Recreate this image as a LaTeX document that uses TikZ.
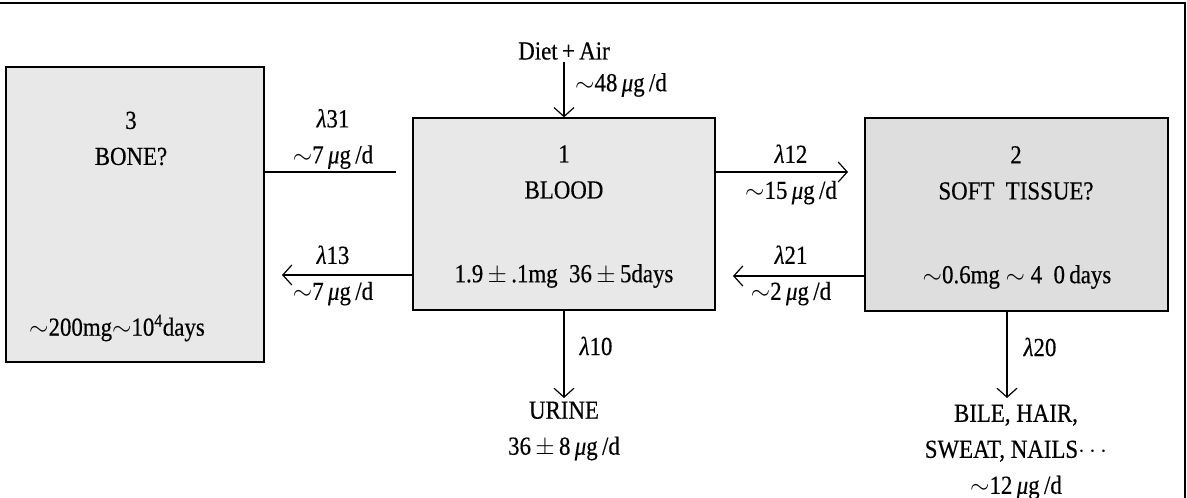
\documentclass[tikz,border=0pt]{standalone}
\usepackage{fontspec}
\setmainfont{Liberation Serif}[FakeStretch=0.88,FakeBold=0.4]
\usetikzlibrary{arrows.meta}
\definecolor{boxA}{HTML}{E8E8E8}
\definecolor{boxB}{HTML}{DEDEDE}
\newcommand{\ug}{\,{\itshape μ}g\,/d}
\newcommand{\lam}{{\itshape λ}}
\newcommand{\pmm}{\,$\pm$\,}
\tikzset{
  comp/.style={draw, line width=1.3pt, inner sep=0pt},
  flow/.style={line width=1.2pt, -{Straight Barb[length=9pt,width=20pt,line width=1.2pt]}},
  plain/.style={line width=1.2pt},
  lbl/.style={inner sep=0pt, align=center},
}
\begin{document}
\begin{tikzpicture}[x=1pt,y=-1pt,font=\fontsize{26}{36}\selectfont]
\useasboundingbox (0,0) rectangle (1187,498);
% frame
\coordinate (ftl) at (0,3);
\coordinate (ftr) at (1185,3);
\coordinate (fbr) at (1185,498);
\draw[line width=2pt] (ftl) -- (ftr) -- (fbr);
% compartments
\node[comp, fill=boxA, minimum width=258pt, minimum height=295pt] (bone) at (135,214.5) {};
\node[comp, fill=boxA, minimum width=302pt, minimum height=192pt] (blood) at (564,214) {};
\node[comp, fill=boxB, minimum width=303pt, minimum height=193pt] (soft) at (1016.5,214.5) {};
% box texts
\node[lbl] (boneT) at (131,138.5) {3\\BONE?};
\node[lbl] (boneV) at (117,328) {$\sim$200mg$\sim$10\textsuperscript{4}days};
\node[lbl] (bloodT) at (564,172) {1\\BLOOD};
\node[lbl] (bloodV) at (564,276) {1.9\pmm.1mg\ \ 36\pmm5days};
\node[lbl] (softT) at (1016,173) {2\\SOFT\ \ TISSUE?};
\node[lbl] (softV) at (1017,277) {$\sim$0.6mg $\sim$ 4\ \ 0\,days};
% free ends
\coordinate (diet) at (564,62);
\coordinate (e31) at (396,172);
\coordinate (e13) at (282,275);
\coordinate (e12) at (848,172);
\coordinate (e21) at (733,276);
\coordinate (e10) at (564,398);
\coordinate (e20) at (1007,398);
% connectors
\draw[flow] (diet) -- (blood.north);
\draw[plain] (bone.east |- e31) -- (e31);
\draw[flow] (blood.west |- e13) -- (e13);
\draw[flow] (blood.east |- e12) -- (e12);
\draw[flow] (soft.west |- e21) -- (e21);
\draw[flow] (blood.south) -- (e10);
\draw[flow] (soft.south -| e20) -- (e20);
% labels
\node[lbl] (dietT) at (564,51) {Diet\,+\,Air};
\node[lbl, anchor=west] (dietR) at (575,85) {$\sim$48\ug};
\node[lbl] (l31) at (333,139) {\lam31\\$\sim$7\ug};
\node[lbl] (l13) at (333,275.5) {\lam13\\$\sim$7\ug};
\node[lbl] (l12) at (791,174.5) {\lam12\\$\sim$15\ug};
\node[lbl] (l21) at (791,275.5) {\lam21\\$\sim$2\ug};
\node[lbl] (l10) at (596,346) {\lam10};
\node[lbl] (urine) at (564,431) {URINE\\36\pmm8\ug};
\node[lbl] (l20) at (1040,347) {\lam20};
\node[lbl] (bile) at (1016,452) {BILE, HAIR,\\SWEAT, NAILS$\cdots$\\$\sim$12\ug};
\end{tikzpicture}
\end{document}
